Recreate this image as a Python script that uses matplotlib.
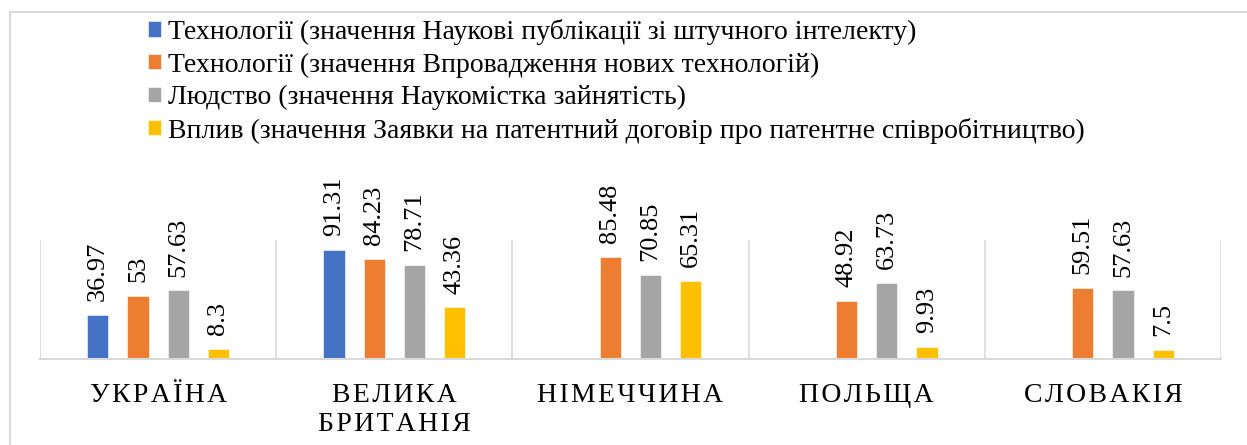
import numpy as np
import matplotlib.pyplot as plt
from matplotlib.patches import Rectangle

plt.rcParams['font.family'] = ['Liberation Serif', 'DejaVu Serif']

countries = ['УКРАЇНА', 'ВЕЛИКА\nБРИТАНІЯ', 'НІМЕЧЧИНА', 'ПОЛЬЩА', 'СЛОВАКІЯ']
series_names = [
    'Технології (значення Наукові публікації зі штучного інтелекту)',
    'Технології (значення Впровадження нових технологій)',
    'Людство (значення Наукомістка зайнятість)',
    'Вплив (значення Заявки на патентний договір про патентне співробітництво)',
]
ai_pubs = [36.97, 91.31, np.nan, np.nan, np.nan]
new_tech = [53, 84.23, 85.48, 48.92, 59.51]
knowledge_jobs = [57.63, 78.71, 70.85, 63.73, 57.63]
pct_patents = [8.3, 43.36, 65.31, 9.93, 7.5]
colors = ['#4472C4', '#ED7D31', '#A5A5A5', '#FFC000']

fig = plt.figure(figsize=(12.47, 4.45), dpi=100)
ax = fig.add_axes([40/1247, 86/445, 1181/1247, 119/445])

x = np.arange(len(countries))
step = 0.17
width = 0.09
all_series = [ai_pubs, new_tech, knowledge_jobs, pct_patents]
handles = []
for k, (vals, col) in enumerate(zip(all_series, colors)):
    pos = x + (k - 1.5) * step
    b = ax.bar(pos, vals, width, color=col, edgecolor='white', linewidth=0.4)
    handles.append(b)
    for xi, v in zip(pos, vals):
        if np.isnan(v):
            continue
        ax.annotate(f'{v:g}', (xi, v), xytext=(0, 10), textcoords='offset points',
                    rotation=90, ha='center', va='bottom', fontsize=19,
                    annotation_clip=False)

ax.set_xlim(-0.5, len(countries) - 0.5)
ax.set_ylim(0, 100)
ax.set_yticks([])
ax.set_xticks([])
for s in ['top', 'left', 'right']:
    ax.spines[s].set_visible(False)
ax.spines['bottom'].set_color('#D9D9D9')
ax.spines['bottom'].set_linewidth(1.5)
for b in np.arange(len(countries) + 1) - 0.5:
    ax.axvline(b, color='#D9D9D9', linewidth=1.2, zorder=0)

# spaced capital labels under each group
for xi, name in zip(x, countries):
    spaced = '\n'.join('\u200a'.join(line) for line in name.split('\n'))
    ax.text(xi, -20.5, spaced, ha='center', va='top', fontsize=20,
            linespacing=1.2, clip_on=False)

fig.legend(handles, series_names, loc='upper left', bbox_to_anchor=(134/1247, 1 - 5/445),
           frameon=False, fontsize=20, handlelength=0.47, handleheight=0.47,
           handletextpad=0.25, labelspacing=0.27, borderpad=0)

fig.patches.append(Rectangle((10/1247, -0.1), 1.2, 1 - 12/445 + 0.1,
                             transform=fig.transFigure, fill=False,
                             edgecolor='#D9D9D9', linewidth=1.5))

fig.savefig('out.png', dpi=100)
